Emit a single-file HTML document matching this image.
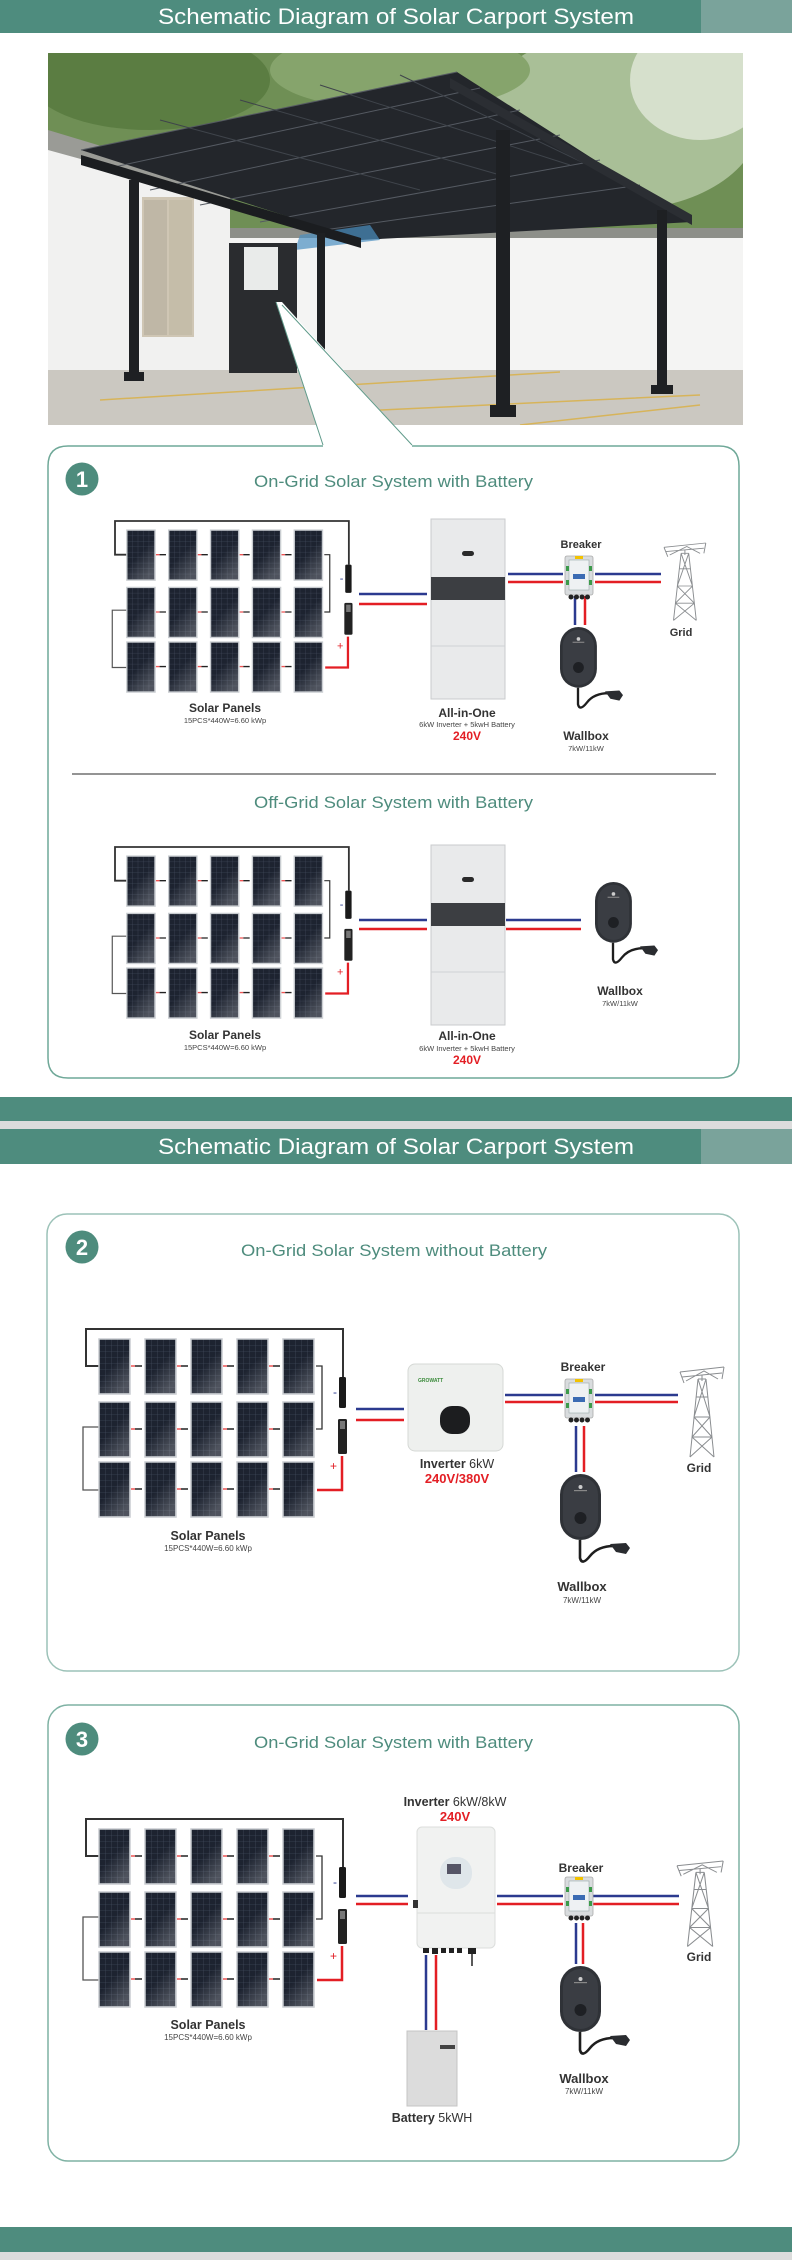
<!DOCTYPE html>
<html><head><meta charset="utf-8"><style>
html,body{margin:0;padding:0;background:#fff}
svg{display:block}
text{font-family:"Liberation Sans",sans-serif}
</style></head><body>
<svg width="792" height="2260" viewBox="0 0 792 2260" xmlns="http://www.w3.org/2000/svg">
<defs>
<pattern id="cell" width="6" height="6" patternUnits="userSpaceOnUse">
<rect width="6" height="6" fill="#1d2330"/>
<path d="M0 0H6M0 0V6" stroke="#4b5466" stroke-width="0.6"/>
</pattern>
<linearGradient id="sheen" x1="0" y1="0" x2="0.6" y2="1">
<stop offset="0.55" stop-color="#fff" stop-opacity="0"/>
<stop offset="1" stop-color="#fff" stop-opacity="0.22"/>
</linearGradient>
<g id="pan">
<rect width="31" height="55" fill="url(#cell)" stroke="#c8ccd0" stroke-width="1.5"/>
<rect width="31" height="55" fill="url(#sheen)"/>
</g>
<g id="row">
<use href="#pan" x="13"/><use href="#pan" x="59"/><use href="#pan" x="105"/><use href="#pan" x="151"/><use href="#pan" x="197"/>
<g stroke-width="1.5">
<path d="M45 27h4M91 27h4M137 27h4M183 27h4" stroke="#e55"/>
<path d="M49 27h7M95 27h7M141 27h7M187 27h7" stroke="#222"/>
</g>
</g>
<g id="grid">
<path d="M13 37H0V0H257V48" fill="none" stroke="#333" stroke-width="2"/>
<path d="M230 37H236V100H230" fill="none" stroke="#333" stroke-width="1.3"/>
<path d="M13 98H-3V161H13" fill="none" stroke="#555" stroke-width="1.3"/>
<use href="#row" y="10"/><use href="#row" y="73"/><use href="#row" y="133"/>
<path d="M231 161H256V127" fill="none" stroke="#e31e24" stroke-width="2.5"/>
<rect x="253" y="48" width="7" height="31" rx="1.5" fill="#1a1a1a"/>
<rect x="252" y="90" width="9" height="35" rx="1.5" fill="#222"/>
<rect x="254" y="92" width="5" height="8" fill="#777"/>
<text x="247" y="67" font-size="12" fill="#2b3a8f">-</text>
<text x="244" y="141" font-size="12" fill="#e31e24">+</text>
</g>
<g id="wall">
<rect x="0" y="0" width="41" height="66" rx="20.5" fill="#2f3237"/>
<rect x="3" y="3" width="35" height="60" rx="17.5" fill="#3a3d43"/>
<circle cx="20.5" cy="13" r="2" fill="#ccc"/>
<rect x="14" y="16" width="13" height="1.2" fill="#888"/>
<circle cx="20.5" cy="44" r="6" fill="#1e2024"/>
<path d="M20 66V84Q22 92 30 82Q38 72 54 72L64 75" fill="none" stroke="#1e1e1e" stroke-width="2.6"/>
<path d="M50 70L66 69L70 74L66 80L56 78Z" fill="#2a2c30"/>
</g>
<g id="brk">
<rect x="0" y="0" width="28" height="39" rx="2" fill="#d9dcde" stroke="#aaa" stroke-width="0.8"/>
<rect x="4" y="4" width="20" height="30" fill="#eef1f3" stroke="#9aa" stroke-width="0.6"/>
<rect x="10" y="0" width="8" height="3" fill="#f2c200"/>
<rect x="8" y="18" width="12" height="5" fill="#3b6bb3"/>
<rect x="1" y="10" width="3" height="5" fill="#3c9a4a"/><rect x="24" y="10" width="3" height="5" fill="#3c9a4a"/>
<rect x="1" y="24" width="3" height="5" fill="#3c9a4a"/><rect x="24" y="24" width="3" height="5" fill="#3c9a4a"/>
<circle cx="6" cy="41" r="2.5" fill="#222"/><circle cx="11.5" cy="41" r="2.5" fill="#222"/><circle cx="17" cy="41" r="2.5" fill="#222"/><circle cx="22.5" cy="41" r="2.5" fill="#222"/>
</g>
<g id="tower" fill="none" stroke="#8a8d90" stroke-width="1">
<path d="M0 5L44 0M2 10L42 6M6 14L24 4L38 12"/>
<path d="M18 12L10 90M26 12L34 90M18 12L26 12M16 30L28 30M14 50L30 50M12 70L32 70M18 12L30 50L12 70M26 12L14 50L32 70M10 90L32 70M34 90L12 70M22 8V14"/>
<path d="M0 5L4 16M44 0L42 12"/>
</g>
</defs>

<!-- header 1 -->
<rect x="0" y="0" width="792" height="33" fill="#4e8c7e"/>
<rect x="701" y="0" width="91" height="33" fill="#7aa39b"/>
<text x="158" y="24" font-size="22" fill="#fff" textLength="476" lengthAdjust="spacingAndGlyphs">Schematic Diagram of Solar Carport System</text>

<!-- photo -->
<g>
<clipPath id="pc"><rect x="48" y="53" width="695" height="372"/></clipPath>
<g clip-path="url(#pc)">
<rect x="48" y="53" width="695" height="372" fill="#7c9a63"/>
<rect x="48" y="53" width="695" height="190" fill="#6f8f55"/>
<ellipse cx="150" cy="80" rx="120" ry="50" fill="#5b7d42"/>
<ellipse cx="620" cy="120" rx="140" ry="90" fill="#a9bf97"/>
<ellipse cx="700" cy="80" rx="70" ry="60" fill="#d6e0cc"/>
<ellipse cx="400" cy="70" rx="130" ry="40" fill="#86a46c"/>
<polygon points="48,140 120,150 230,200 230,380 48,380" fill="#f1f1f0"/>
<polygon points="48,130 230,185 230,200 48,150" fill="#9a9b96"/>
<rect x="142" y="197" width="52" height="140" fill="#cfc6b4"/>
<rect x="144" y="200" width="23" height="135" fill="#bfb7a6"/>
<rect x="169" y="200" width="23" height="135" fill="#c5bda9"/>
<rect x="230" y="233" width="513" height="145" fill="#f4f4f3"/>
<rect x="230" y="228" width="513" height="10" fill="#8d8f89"/>
<rect x="48" y="370" width="695" height="55" fill="#cbc8c1"/>
<path d="M100 400L560 372M380 410L700 395M520 425L700 405" stroke="#d7b45a" stroke-width="1.5"/>
<polygon points="81,150 457,72 692,222 361,240" fill="#23262b"/>
<path d="M81,150 457,72 M100,170 480,88 M150,190 520,110 M200,205 560,135 M260,222 600,160 M310,232 640,185" stroke="#555a62" stroke-width="1"/>
<path d="M160,120 420,190 M240,100 500,175 M320,85 570,165 M400,75 640,190" stroke="#3f444b" stroke-width="1"/>
<polygon points="300,235 370,225 380,240 295,250" fill="#4a8fc0" opacity="0.7"/>
<polygon points="81,155 361,238 361,248 81,165" fill="#1b1d20"/>
<polygon points="450,78 692,215 692,225 450,88" fill="#2b2e33"/>
<rect x="129" y="180" width="10" height="198" fill="#1e2023"/>
<rect x="124" y="372" width="20" height="9" fill="#1e2023"/>
<rect x="317" y="233" width="8" height="127" fill="#1e2023"/>
<rect x="496" y="130" width="14" height="280" fill="#1e2023"/>
<rect x="490" y="405" width="26" height="12" fill="#1e2023"/>
<rect x="657" y="210" width="10" height="180" fill="#1e2023"/>
<rect x="651" y="385" width="22" height="9" fill="#1e2023"/>
<rect x="229" y="243" width="68" height="130" fill="#2a2c2f"/>
<rect x="244" y="247" width="34" height="43" fill="#e9ebea"/>
</g>
<polygon points="276,302 282,302 412,446 323,446" fill="#fff"/>
<path d="M276,302 L323,445 M282,305 L412,445" stroke="#5f9a8a" stroke-width="1"/>
</g>

<!-- card 1 -->
<path d="M323 446H68Q48 446 48 466V1058Q48 1078 68 1078H719Q739 1078 739 1058V466Q739 446 719 446H412" fill="none" stroke="#6fa898" stroke-width="1.5"/>
<circle cx="82" cy="479" r="16.5" fill="#4e8c7d"/>
<text x="82" y="487" font-size="22" font-weight="bold" fill="#fff" text-anchor="middle">1</text>
<text x="254" y="487" font-size="17" fill="#4e8c7d" textLength="279" lengthAdjust="spacingAndGlyphs">On-Grid Solar System with Battery</text>

<use href="#grid" transform="translate(115 521) scale(0.91)"/>
<g stroke-width="2.5">
<path d="M359 594H427" stroke="#2b3a8f"/><path d="M359 604H427" stroke="#e31e24"/>
<path d="M508 574H563M595 574H661" stroke="#2b3a8f"/><path d="M508 582H563M595 582H661" stroke="#e31e24"/>
<path d="M575 596V625" stroke="#2b3a8f"/><path d="M585 596V625" stroke="#e31e24"/>
</g>
<g>
<rect x="431" y="519" width="74" height="180" fill="#e9eaeb" stroke="#c9cbcd" stroke-width="1"/>
<rect x="431" y="577" width="74" height="23" fill="#3c3e42"/>
<path d="M431 646H505" stroke="#d0d2d4"/>
<rect x="462" y="551" width="12" height="5" rx="2.5" fill="#2a2a2a"/>
</g>
<use href="#brk" x="565" y="556"/>
<use href="#tower" transform="translate(664 543) scale(0.95 0.86)"/>
<use href="#wall" transform="translate(560 627) scale(0.9 0.92)"/>
<g font-weight="bold" fill="#333">
<text x="581" y="548" font-size="11" text-anchor="middle">Breaker</text>
<text x="681" y="636" font-size="11" text-anchor="middle">Grid</text>
<text x="586" y="740" font-size="12" text-anchor="middle">Wallbox</text>
<text x="225" y="712" font-size="12" text-anchor="middle">Solar Panels</text>
<text x="467" y="717" font-size="12" text-anchor="middle">All-in-One</text>
<text x="467" y="740" font-size="12" text-anchor="middle" fill="#e31e24">240V</text>
</g>
<g font-size="7.5" fill="#444" text-anchor="middle">
<text x="586" y="751">7kW/11kW</text>
<text x="225" y="723">15PCS*440W=6.60 kWp</text>
<text x="467" y="727">6kW Inverter + 5kwH Battery</text>
</g>
<path d="M72 774H716" stroke="#555" stroke-width="1.2"/>
<text x="254" y="808" font-size="17" fill="#4e8c7d" textLength="279" lengthAdjust="spacingAndGlyphs">Off-Grid Solar System with Battery</text>

<use href="#grid" transform="translate(115 847) scale(0.91)"/>
<g stroke-width="2.5">
<path d="M359 920H427M506 920H581" stroke="#2b3a8f"/><path d="M359 929H427M506 929H581" stroke="#e31e24"/>
</g>
<g>
<rect x="431" y="845" width="74" height="180" fill="#e9eaeb" stroke="#c9cbcd" stroke-width="1"/>
<rect x="431" y="903" width="74" height="23" fill="#3c3e42"/>
<path d="M431 972H505" stroke="#d0d2d4"/>
<rect x="462" y="877" width="12" height="5" rx="2.5" fill="#2a2a2a"/>
</g>
<use href="#wall" transform="translate(595 882) scale(0.9 0.92)"/>
<g font-weight="bold" fill="#333" text-anchor="middle">
<text x="620" y="995" font-size="12">Wallbox</text>
<text x="225" y="1039" font-size="12">Solar Panels</text>
<text x="467" y="1040" font-size="12">All-in-One</text>
<text x="467" y="1064" font-size="12" fill="#e31e24">240V</text>
</g>
<g font-size="7.5" fill="#444" text-anchor="middle">
<text x="620" y="1006">7kW/11kW</text>
<text x="225" y="1050">15PCS*440W=6.60 kWp</text>
<text x="467" y="1051">6kW Inverter + 5kwH Battery</text>
</g>

<!-- band + header 2 -->
<rect x="0" y="1097" width="792" height="24" fill="#4e8c7e"/>
<rect x="0" y="1121" width="792" height="8" fill="#dcdcdc"/>
<rect x="0" y="1129" width="792" height="35" fill="#4e8c7e"/>
<rect x="701" y="1129" width="91" height="35" fill="#7aa39b"/>
<text x="158" y="1154" font-size="22" fill="#fff" textLength="476" lengthAdjust="spacingAndGlyphs">Schematic Diagram of Solar Carport System</text>

<!-- card 2 -->
<rect x="47" y="1214" width="692" height="457" rx="20" fill="none" stroke="#9cc2b8" stroke-width="1.5"/>
<circle cx="82" cy="1247" r="16.5" fill="#4e8c7d"/>
<text x="82" y="1255" font-size="22" font-weight="bold" fill="#fff" text-anchor="middle">2</text>
<text x="241" y="1256" font-size="17" fill="#4e8c7d" textLength="306" lengthAdjust="spacingAndGlyphs">On-Grid Solar System without Battery</text>
<use href="#grid" transform="translate(86 1329)"/>
<g stroke-width="2.5">
<path d="M356 1409H404" stroke="#2b3a8f"/><path d="M356 1420H404" stroke="#e31e24"/>
<path d="M505 1395H563M595 1395H678" stroke="#2b3a8f"/><path d="M505 1402H563M595 1402H678" stroke="#e31e24"/>
<path d="M576 1426V1472" stroke="#2b3a8f"/><path d="M584 1426V1472" stroke="#e31e24"/>
</g>
<rect x="408" y="1364" width="95" height="87" rx="7" fill="#eef0ee" stroke="#d5d8d5"/>
<text x="418" y="1382" font-size="5" fill="#3a8a3a" font-weight="bold">GROWATT</text>
<rect x="440" y="1406" width="30" height="28" rx="12" fill="#1c1d1f"/>
<use href="#brk" x="565" y="1379"/>
<use href="#tower" transform="translate(680 1367)"/>
<use href="#wall" x="560" y="1474"/>
<g font-weight="bold" fill="#333" text-anchor="middle">
<text x="583" y="1371" font-size="12">Breaker</text>
<text x="699" y="1472" font-size="12">Grid</text>
<text x="582" y="1591" font-size="13">Wallbox</text>
<text x="208" y="1540" font-size="12.5">Solar Panels</text>
<text x="457" y="1468" font-size="12.5"><tspan>Inverter</tspan><tspan font-weight="normal"> 6kW</tspan></text>
<text x="457" y="1483" font-size="13" fill="#e31e24">240V/380V</text>
</g>
<g font-size="8" fill="#444" text-anchor="middle">
<text x="582" y="1603">7kW/11kW</text>
<text x="208" y="1551">15PCS*440W=6.60 kWp</text>
</g>

<!-- card 3 -->
<rect x="48" y="1705" width="691" height="456" rx="20" fill="none" stroke="#7fb2a4" stroke-width="1.5"/>
<circle cx="82" cy="1739" r="16.5" fill="#4e8c7d"/>
<text x="82" y="1747" font-size="22" font-weight="bold" fill="#fff" text-anchor="middle">3</text>
<text x="254" y="1748" font-size="17" fill="#4e8c7d" textLength="279" lengthAdjust="spacingAndGlyphs">On-Grid Solar System with Battery</text>
<use href="#grid" transform="translate(86 1819)"/>
<g stroke-width="2.5">
<path d="M356 1896H408M497 1896H563M593 1896H679" stroke="#2b3a8f"/><path d="M356 1904H408M497 1904H563M593 1904H679" stroke="#e31e24"/>
<path d="M576 1923V1964M426 1955V2030" stroke="#2b3a8f"/><path d="M583 1923V1964M436 1955V2030" stroke="#e31e24"/>
</g>
<rect x="417" y="1827" width="78" height="121" rx="5" fill="#f1f2f1" stroke="#dcdedc"/>
<path d="M417 1913H495" stroke="#dcdedc"/>
<rect x="440" y="1857" width="32" height="32" rx="15" fill="#dfe6ea"/>
<rect x="447" y="1864" width="14" height="10" fill="#556"/>
<rect x="413" y="1900" width="5" height="8" fill="#333"/>
<g fill="#222"><rect x="423" y="1948" width="6" height="5"/><rect x="432" y="1948" width="6" height="6"/><rect x="441" y="1948" width="5" height="5"/><rect x="449" y="1948" width="5" height="5"/><rect x="457" y="1948" width="5" height="5"/><rect x="468" y="1948" width="8" height="6"/></g>
<path d="M472 1954V1966" stroke="#222" stroke-width="1.5"/>
<rect x="407" y="2031" width="50" height="75" fill="#dcdcdc" stroke="#c4c4c4"/>
<rect x="440" y="2045" width="15" height="4" fill="#444"/>
<use href="#brk" x="565" y="1877"/>
<use href="#tower" transform="translate(677 1861) scale(1.05 0.95)"/>
<use href="#wall" x="560" y="1966" transform=""/>
<g font-weight="bold" fill="#333" text-anchor="middle">
<text x="455" y="1806" font-size="12.5"><tspan>Inverter </tspan><tspan font-weight="normal"> 6kW/8kW</tspan></text>
<text x="455" y="1821" font-size="13" fill="#e31e24">240V</text>
<text x="581" y="1872" font-size="12">Breaker</text>
<text x="699" y="1961" font-size="12">Grid</text>
<text x="584" y="2083" font-size="13">Wallbox</text>
<text x="208" y="2029" font-size="12.5">Solar Panels</text>
<text x="432" y="2122" font-size="12.5"><tspan>Battery</tspan><tspan font-weight="normal"> 5kWH</tspan></text>
</g>
<g font-size="8" fill="#444" text-anchor="middle">
<text x="584" y="2094">7kW/11kW</text>
<text x="208" y="2040">15PCS*440W=6.60 kWp</text>
</g>

<rect x="0" y="2227" width="792" height="25" fill="#4e8c7e"/>
<rect x="0" y="2252" width="792" height="8" fill="#dcdcdc"/>
</svg>
</body></html>
